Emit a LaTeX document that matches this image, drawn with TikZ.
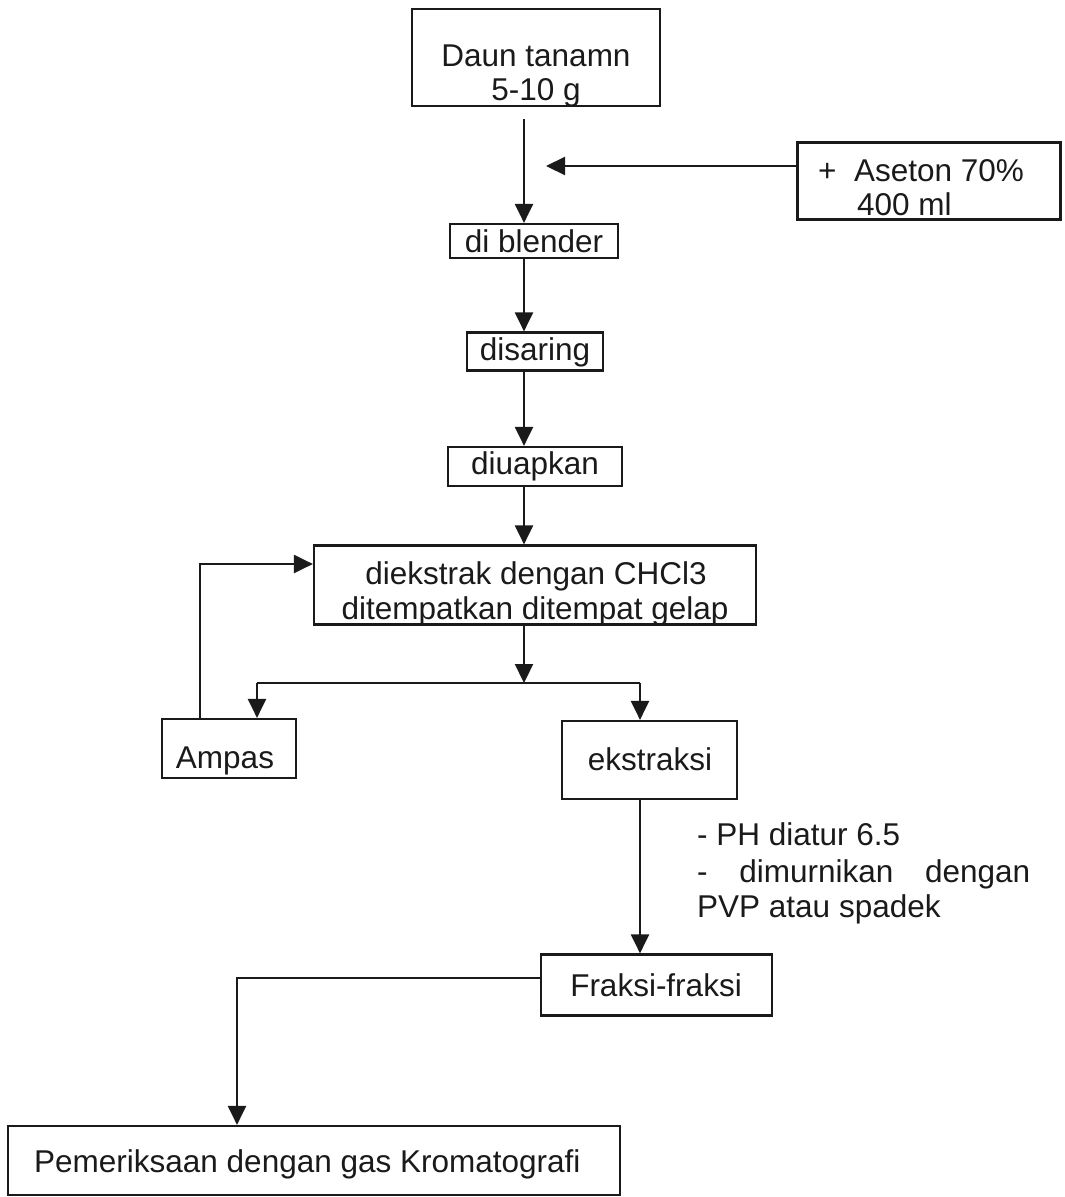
\documentclass[tikz,border=0pt]{standalone}
\usepackage{fontspec}
\setmainfont{Liberation Sans}
\usetikzlibrary{arrows.meta}
\definecolor{ink}{HTML}{1A1A1A}
\begin{document}
\begin{tikzpicture}[x=1pt,y=-1pt,
  box/.style={draw=ink, line width=2.2pt, inner sep=0pt, rectangle},
  txt/.style={inner sep=0pt, anchor=base, text=ink, font=\fontsize{31.5}{34}\selectfont},
  txtl/.style={txt, anchor=base west},
  conn/.style={draw=ink, line width=2.2pt},
  arr/.style={conn, -{Triangle[length=19pt,width=18pt]}}]
\useasboundingbox (0,0) rectangle (1065,1197);
\fill[white] (0,0) rectangle (1065,1197);

% boxes
\node[box, minimum width=248pt, minimum height=97pt] (b1) at (536,57.5) {};
\node[box, minimum width=263pt, minimum height=77pt] (aseton) at (929,181) {};
\node[box, minimum width=168pt, minimum height=34pt] (blender) at (534,241) {};
\node[box, minimum width=136pt, minimum height=38pt] (disaring) at (535,351.5) {};
\node[box, minimum width=174pt, minimum height=39pt] (diuapkan) at (535,466.5) {};
\node[box, minimum width=442pt, minimum height=79pt] (chcl) at (535,585) {};
\node[box, minimum width=134pt, minimum height=59pt] (ampas) at (229,748.5) {};
\node[box, minimum width=175pt, minimum height=78pt] (ekstraksi) at (649.5,760) {};
\node[box, minimum width=231pt, minimum height=61pt] (fraksi) at (656.5,985) {};
\node[box, minimum width=612pt, minimum height=69pt] (final) at (314,1160.5) {};

% texts
\node[txt] (t1a) at (536,66) {Daun tanamn};
\node[txt] (t1b) at (536,100) {5-10 g};
\node[txtl] (t2a) at (818,181) {+\ \ Aseton 70\%};
\node[txtl] (t2b) at (857,215) {400 ml};
\node[txt] (t3) at (534,252) {di blender};
\node[txt] (t4) at (535,360) {disaring};
\node[txt] (t5) at (535,474) {diuapkan};
\node[txt] (t6a) at (536,584) {diekstrak dengan CHCl3};
\node[txt] (t6b) at (535,619) {ditempatkan ditempat gelap};
\node[txt] (t7) at (225,768) {Ampas};
\node[txt] (t8) at (650,770) {ekstraksi};
\node[txtl] (n1) at (697,845) {- PH diatur 6.5};
\node[txtl] (n2) at (697,882) {\hbox to 333pt{-\hfill dimurnikan\hfill dengan}};
\node[txtl] (n3) at (697,917) {PVP atau spadek};
\node[txt] (t9) at (656,996) {Fraksi-fraksi};
\node[txtl] (t10) at (34,1172) {Pemeriksaan dengan gas Kromatografi};

% connectors
\coordinate (ax) at (524,0);
\draw[arr, shorten <=12pt] (b1.south -| ax) -- (blender.north -| ax);
\coordinate (atip) at (546,166);
\draw[arr] (aseton.west |- atip) -- (atip);
\draw[arr] (blender.south -| ax) -- (disaring.north -| ax);
\draw[arr] (disaring.south -| ax) -- (diuapkan.north -| ax);
\draw[arr] (diuapkan.south -| ax) -- (chcl.north -| ax);
\coordinate (split) at (524,683);
\draw[arr] (chcl.south -| ax) -- (split);
\coordinate (sl) at (257,683);
\coordinate (sr) at (640,683);
\draw[conn] (sl) -- (sr);
\draw[arr] (sl) -- (ampas.north -| sl);
\draw[arr] (sr) -- (ekstraksi.north -| sr);
\coordinate (fb) at (200,564);
\draw[arr] (ampas.north -| fb) |- (chcl.west |- fb);
\draw[arr] (ekstraksi.south -| sr) -- (fraksi.north -| sr);
\coordinate (fl) at (237,978);
\draw[arr] (fraksi.west |- fl) -| (final.north -| fl);
\end{tikzpicture}
\end{document}
